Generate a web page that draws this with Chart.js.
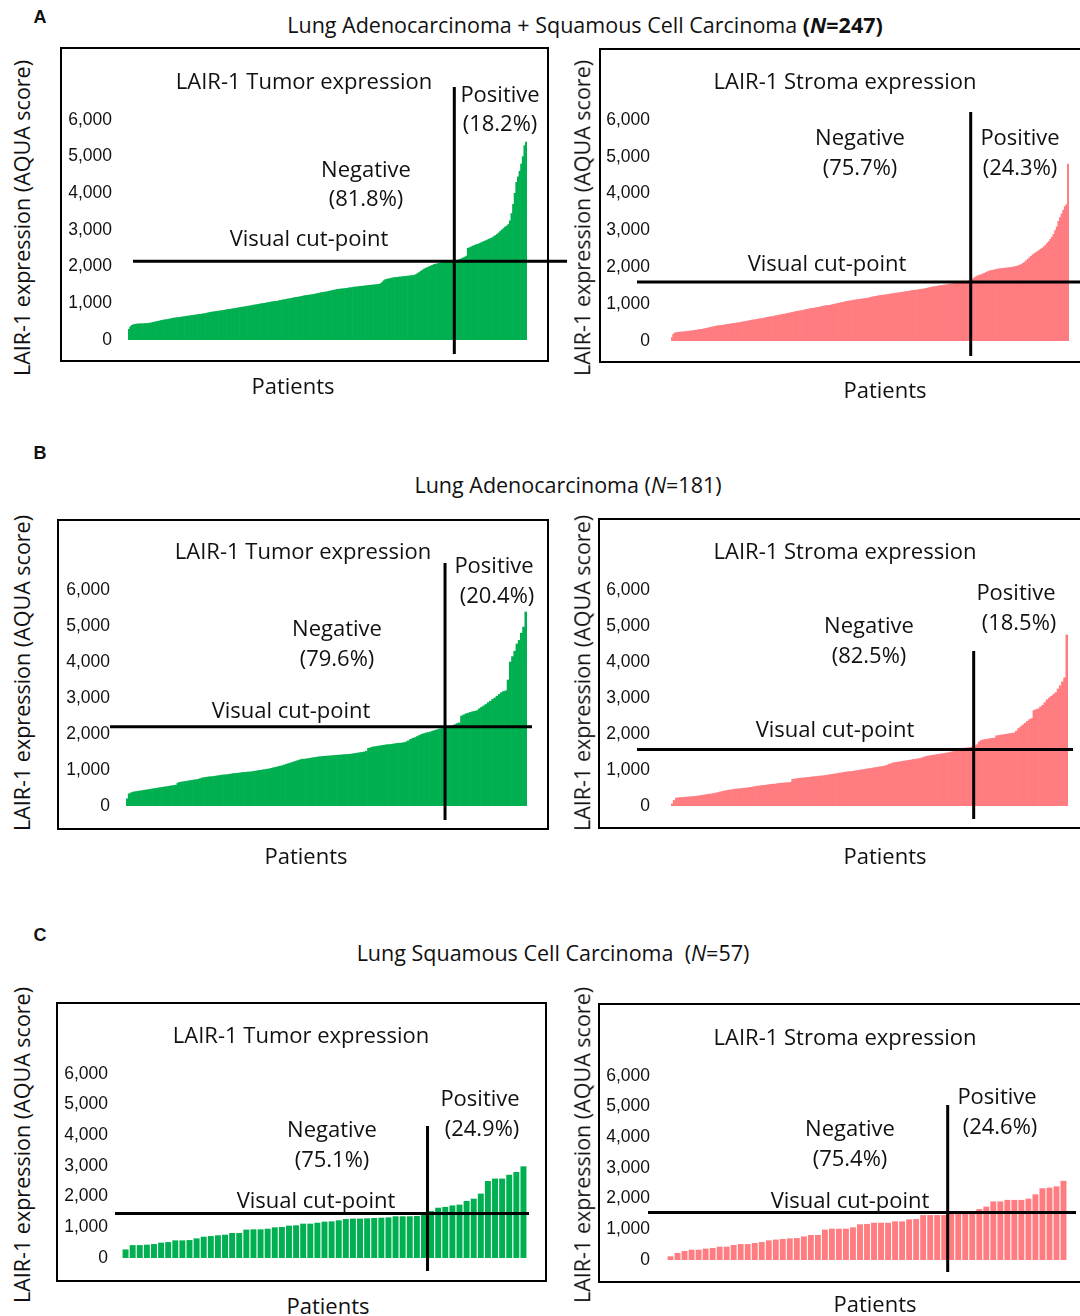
<!DOCTYPE html>
<html>
<head>
<meta charset="utf-8">
<script src="https://cdn.jsdelivr.net/npm/chart.js@4.4.1/dist/chart.umd.min.js"></script>
<style>
  html, body { margin: 0; padding: 0; background: #fff; }
  body { width: 1080px; height: 1316px; position: relative; overflow: hidden; font-family: "Open Sans", sans-serif; color: #111; }
  .t { position: absolute; transform: translate(-50%, -50%); white-space: nowrap; font-size: 22px; line-height: 1; }
  .hdr { position: absolute; transform: translate(-50%, -50%); white-space: nowrap; font-size: 21.5px; line-height: 1; }
  .lt { position: absolute; font-family: "Liberation Sans", Arial, sans-serif; font-weight: bold; font-size: 18px; transform: translate(-50%, -50%); }
  .yt { position: absolute; transform: translate(-50%, -50%) rotate(-90deg); white-space: nowrap; font-size: 21.5px; line-height: 1; }
  .box { position: absolute; border: 2px solid #000; box-sizing: border-box; }
  canvas { position: absolute; }
</style>
</head>
<body>
<script>
// ---------------- DATA ----------------
const yTickValues = [0, 1000, 2000, 3000, 4000, 5000, 6000];

// Panel A: Lung Adenocarcinoma + Squamous Cell Carcinoma (N=247)
const tumorAll = [
  290, 360, 400, 420, 430, 435, 440, 440, 445, 445,
  450, 450, 455, 460, 470, 480, 490, 500, 510, 520,
  530, 540, 550, 555, 560, 570, 580, 590, 600, 605,
  610, 615, 620, 630, 635, 640, 650, 655, 660, 670,
  675, 680, 690, 695, 700, 705, 715, 720, 730, 740,
  750, 760, 765, 770, 780, 785, 790, 800, 805, 810,
  820, 830, 835, 840, 850, 855, 860, 870, 880, 890,
  895, 900, 910, 915, 925, 930, 940, 950, 955, 965,
  970, 980, 990, 995, 1000, 1010, 1020, 1025, 1035, 1045,
  1050, 1055, 1060, 1070, 1080, 1090, 1100, 1105, 1115, 1125,
  1130, 1140, 1150, 1160, 1165, 1170, 1180, 1190, 1200, 1210,
  1215, 1220, 1230, 1235, 1240, 1250, 1260, 1270, 1280, 1290,
  1300, 1305, 1310, 1320, 1330, 1340, 1350, 1360, 1370, 1380,
  1385, 1390, 1395, 1400, 1405, 1410, 1420, 1425, 1430, 1440,
  1445, 1450, 1455, 1460, 1465, 1470, 1475, 1480, 1485, 1490,
  1495, 1500, 1505, 1510, 1515, 1520, 1540, 1580, 1620, 1650,
  1660, 1670, 1680, 1690, 1700, 1705, 1710, 1715, 1720, 1725,
  1730, 1735, 1740, 1745, 1750, 1755, 1760, 1770, 1790, 1820,
  1850, 1880, 1910, 1940, 1960, 1980, 2000, 2020, 2040, 2060,
  2070, 2080, 2090, 2100, 2110, 2115, 2120, 2125, 2130, 2135,
  2140, 2145, 2150, 2160, 2180, 2200, 2220, 2240, 2260, 2290,
  2500, 2520, 2540, 2560, 2580, 2600, 2610, 2630, 2650, 2670,
  2690, 2710, 2730, 2750, 2770, 2790, 2820, 2850, 2880, 2920,
  2960, 3000, 3040, 3080, 3110, 3150, 3250, 3450, 3700, 4000,
  4300, 4450, 4600, 4800, 5000, 5300, 5400
];
const stromaAll = [
  90, 180, 220, 230, 235, 240, 245, 250, 255, 260,
  265, 270, 275, 280, 290, 295, 300, 310, 315, 320,
  330, 340, 350, 360, 370, 380, 390, 400, 410, 415,
  420, 425, 430, 440, 450, 455, 460, 470, 475, 480,
  490, 495, 500, 510, 520, 525, 530, 540, 550, 560,
  570, 575, 580, 590, 600, 605, 610, 620, 630, 640,
  650, 655, 660, 670, 680, 690, 700, 705, 715, 725,
  730, 740, 750, 760, 770, 780, 790, 800, 810, 815,
  820, 830, 840, 850, 860, 870, 880, 885, 890, 900,
  905, 915, 925, 935, 945, 955, 960, 965, 970, 980,
  990, 1000, 1010, 1020, 1030, 1040, 1050, 1060, 1070, 1080,
  1085, 1090, 1100, 1110, 1115, 1120, 1130, 1135, 1140, 1150,
  1155, 1160, 1170, 1180, 1190, 1200, 1210, 1215, 1225, 1235,
  1240, 1245, 1250, 1255, 1265, 1270, 1280, 1285, 1290, 1300,
  1305, 1310, 1320, 1325, 1330, 1340, 1345, 1350, 1360, 1370,
  1375, 1380, 1385, 1390, 1400, 1405, 1410, 1420, 1430, 1440,
  1450, 1460, 1470, 1475, 1480, 1490, 1500, 1505, 1510, 1520,
  1525, 1530, 1540, 1545, 1550, 1560, 1565, 1570, 1575, 1580,
  1590, 1600, 1610, 1620, 1625, 1630, 1650, 1690, 1720, 1750,
  1770, 1790, 1800, 1820, 1840, 1860, 1880, 1900, 1910, 1920,
  1930, 1940, 1950, 1960, 1965, 1970, 1975, 1980, 1985, 1990,
  1995, 2000, 2010, 2020, 2030, 2045, 2060, 2080, 2110, 2140,
  2180, 2220, 2260, 2300, 2340, 2370, 2400, 2430, 2460, 2490,
  2520, 2560, 2600, 2650, 2700, 2760, 2820, 2900, 3000, 3100,
  3250, 3350, 3450, 3550, 3650, 3700, 4800
];

// Panel B: Lung Adenocarcinoma (N=181)
const tumorAdeno = [
  200, 340, 370, 390, 400, 410, 420, 430, 440, 450,
  460, 470, 480, 490, 500, 510, 520, 530, 540, 550,
  560, 570, 580, 640, 660, 670, 680, 690, 700, 710,
  720, 730, 740, 760, 780, 790, 800, 810, 815, 820,
  830, 840, 850, 860, 865, 870, 880, 890, 900, 905,
  910, 920, 930, 935, 940, 945, 950, 960, 970, 980,
  990, 1000, 1010, 1020, 1030, 1045, 1060, 1075, 1090, 1105,
  1120, 1140, 1160, 1180, 1200, 1220, 1240, 1260, 1280, 1300,
  1300, 1310, 1320, 1330, 1340, 1350, 1360, 1370, 1375, 1380,
  1385, 1390, 1395, 1400, 1405, 1410, 1415, 1420, 1425, 1430,
  1435, 1440, 1450, 1460, 1470, 1480, 1490, 1500, 1520, 1600,
  1620, 1640, 1650, 1660, 1670, 1680, 1690, 1700, 1705, 1710,
  1720, 1730, 1740, 1745, 1750, 1760, 1780, 1810, 1850, 1880,
  1900, 1930, 1960, 1990, 2010, 2030, 2040, 2060, 2080, 2100,
  2120, 2140, 2150, 2160, 2170, 2190, 2210, 2230, 2260, 2290,
  2310, 2500, 2530, 2560, 2580, 2600, 2620, 2630, 2650, 2700,
  2740, 2780, 2820, 2870, 2910, 2960, 3000, 3050, 3100, 3150,
  3180, 3200, 3500, 4000, 4150, 4300, 4500, 4600, 4800, 4970,
  5390
];
const stromaAdeno = [
  60, 155, 220, 230, 235, 240, 245, 250, 255, 260,
  265, 270, 280, 290, 300, 310, 320, 330, 335, 345,
  360, 375, 390, 405, 420, 430, 440, 450, 460, 470,
  475, 480, 490, 495, 500, 510, 520, 530, 540, 550,
  560, 570, 575, 580, 590, 600, 605, 610, 620, 630,
  635, 640, 645, 650, 655, 740, 750, 760, 770, 775,
  780, 790, 795, 800, 810, 815, 820, 830, 835, 840,
  850, 860, 870, 880, 890, 900, 910, 920, 930, 940,
  950, 955, 960, 970, 980, 990, 1000, 1010, 1020, 1030,
  1040, 1050, 1060, 1070, 1080, 1090, 1100, 1110, 1130, 1160,
  1180, 1200, 1210, 1220, 1230, 1240, 1250, 1260, 1270, 1280,
  1290, 1300, 1310, 1320, 1340, 1360, 1380, 1390, 1400, 1410,
  1420, 1430, 1440, 1450, 1460, 1470, 1480, 1495, 1510, 1530,
  1550, 1565, 1580, 1600, 1610, 1620, 1630, 1640, 1650, 1700,
  1780, 1820, 1840, 1850, 1860, 1870, 1880, 1890, 1950, 1960,
  1970, 1980, 1990, 2000, 2010, 2020, 2030, 2080, 2150, 2200,
  2250, 2300, 2350, 2400, 2430, 2650, 2680, 2700, 2750, 2800,
  2870, 2950, 3000, 3050, 3100, 3150, 3250, 3340, 3450, 3560,
  4750
];

// Panel C: Lung Squamous Cell Carcinoma (N=57)
const tumorSquam = [
  280, 420, 420, 435, 455, 500, 520, 575, 575, 585,
  640, 695, 715, 740, 760, 815, 815, 925, 935, 935,
  955, 1000, 1010, 1055, 1065, 1120, 1120, 1150, 1185, 1195,
  1230, 1270, 1285, 1285, 1295, 1305, 1315, 1325, 1360, 1360,
  1360, 1370, 1410, 1530, 1640, 1665, 1715, 1740, 1860, 1935,
  2100, 2510, 2590, 2590, 2715, 2805, 2990
];
const stromaSquam = [
  120, 230, 295, 335, 335, 370, 390, 435, 435, 490,
  520, 520, 555, 585, 640, 665, 685, 705, 715, 770,
  815, 815, 990, 1020, 1020, 1020, 1065, 1165, 1175, 1215,
  1215, 1215, 1260, 1260, 1325, 1335, 1465, 1465, 1465, 1465,
  1500, 1550, 1550, 1560, 1660, 1740, 1910, 1910, 1960, 1960,
  1960, 2000, 2140, 2340, 2360, 2400, 2580
];

// Visual cut-points (AQUA score) and number of "negative" patients left of the vertical line
const cutValues   = { aT: 2150, aS: 1600, bT: 2200, bS: 1570, cT: 1450, cS: 1550 };
const negCounts   = { aT: 202,  aS: 186,  bT: 144,  bS: 138,  cT: 43,   cS: 40 };

const GREEN = '#00B050';
const PINK = '#FF7C80';

// ---------------- LAYOUT (page pixel positions) ----------------
const panels = [
  { key: 'aT', values: tumorAll, color: GREEN, bp: 1,
    canvas: [40, 40, 550, 360], area: [128, 120, 527, 340], tickPad: 16,
    box: [60, 47, 549, 362], h: [133, 567], v: [87, 354],
    ytitle: [22, 218], patients: [293, 385],
    texts: [['LAIR-1 Tumor expression', 304, 80], ['Positive', 500, 93], ['(18.2%)', 500, 122],
            ['Negative', 366, 168], ['(81.8%)', 366, 197], ['Visual cut-point', 309, 237]] },
  { key: 'aS', values: stromaAll, color: PINK, bp: 1,
    canvas: [590, 40, 490, 360], area: [671, 120, 1069, 341], tickPad: 21,
    box: [599, 48, 1084, 363], h: [637, 1080], v: [112, 356],
    ytitle: [582, 218], patients: [885, 389],
    texts: [['LAIR-1 Stroma expression', 845, 80], ['Negative', 860, 136], ['(75.7%)', 860, 166],
            ['Positive', 1020, 136], ['(24.3%)', 1020, 166], ['Visual cut-point', 827, 262]] },
  { key: 'bT', values: tumorAdeno, color: GREEN, bp: 1,
    canvas: [40, 500, 550, 360], area: [126, 590, 527, 806], tickPad: 16,
    box: [57, 519, 549, 830], h: [110, 532], v: [563, 820],
    ytitle: [22, 673], patients: [306, 855],
    texts: [['LAIR-1 Tumor expression', 303, 550], ['Positive', 494, 564], ['(20.4%)', 497, 594],
            ['Negative', 337, 627], ['(79.6%)', 337, 657], ['Visual cut-point', 291, 709]] },
  { key: 'bS', values: stromaAdeno, color: PINK, bp: 1,
    canvas: [590, 500, 490, 360], area: [671, 590, 1068, 806], tickPad: 21,
    box: [598, 518, 1084, 829], h: [637, 1073], v: [651, 819],
    ytitle: [582, 673], patients: [885, 855],
    texts: [['LAIR-1 Stroma expression', 845, 550], ['Negative', 869, 624], ['(82.5%)', 869, 654],
            ['Positive', 1016, 591], ['(18.5%)', 1019, 621], ['Visual cut-point', 835, 728]] },
  { key: 'cT', values: tumorSquam, color: GREEN, bp: 0.84,
    canvas: [40, 990, 550, 300], area: [122, 1074, 527, 1258], tickPad: 14,
    box: [56, 1002, 547, 1282], h: [115, 529], v: [1126, 1271],
    ytitle: [22, 1145], patients: [328, 1305],
    texts: [['LAIR-1 Tumor expression', 301, 1034], ['Negative', 332, 1128], ['(75.1%)', 332, 1158],
            ['Positive', 480, 1097], ['(24.9%)', 482, 1127], ['Visual cut-point', 316, 1199]] },
  { key: 'cS', values: stromaSquam, color: PINK, bp: 0.84,
    canvas: [590, 990, 490, 300], area: [667, 1076, 1067, 1260], tickPad: 17,
    box: [598, 1003, 1084, 1283], h: [648, 1076], v: [1105, 1272],
    ytitle: [582, 1145], patients: [875, 1303],
    texts: [['LAIR-1 Stroma expression', 845, 1036], ['Negative', 850, 1127], ['(75.4%)', 850, 1157],
            ['Positive', 997, 1095], ['(24.6%)', 1000, 1125], ['Visual cut-point', 850, 1199]] }
];

function addDiv(cls, html, x, y) {
  const d = document.createElement('div');
  d.className = cls;
  d.innerHTML = html;
  d.style.left = x + 'px';
  d.style.top = y + 'px';
  document.body.appendChild(d);
  return d;
}

// Section letters and headers
addDiv('lt', 'A', 40, 17);
addDiv('lt', 'B', 40, 453);
addDiv('lt', 'C', 40, 935);
addDiv('hdr', 'Lung Adenocarcinoma + Squamous Cell Carcinoma <b>(<i>N</i>=247)</b>', 585, 25);
addDiv('hdr', 'Lung Adenocarcinoma (<i>N</i>=181)', 568, 485);
addDiv('hdr', 'Lung Squamous Cell Carcinoma&nbsp;&nbsp;(<i>N</i>=57)', 553, 953);

const YW = 80;

const cutLines = {
  id: 'cutLines',
  afterDatasetsDraw(chart, args, opts) {
    const p = opts.panel;
    const ctx = chart.ctx;
    const ox = p.canvas[0], oy = p.canvas[1];
    const y = chart.scales.y.getPixelForValue(cutValues[p.key]);
    const x = chart.scales.x.getPixelForValue(negCounts[p.key] - 0.5);
    ctx.save();
    ctx.strokeStyle = '#000';
    ctx.lineWidth = 3;
    ctx.beginPath();
    ctx.moveTo(p.h[0] - ox, y);
    ctx.lineTo(p.h[1] - ox, y);
    ctx.moveTo(x, p.v[0] - oy);
    ctx.lineTo(x, p.v[1] - oy);
    ctx.stroke();
    ctx.restore();
  }
};

panels.forEach(p => {
  const b = document.createElement('div');
  b.className = 'box';
  b.style.left = p.box[0] + 'px';
  b.style.top = p.box[1] + 'px';
  b.style.width = (p.box[2] - p.box[0]) + 'px';
  b.style.height = (p.box[3] - p.box[1]) + 'px';
  document.body.appendChild(b);

  const [cx, cy, cw, ch] = p.canvas;
  const [L, T, R, B] = p.area;
  const cv = document.createElement('canvas');
  cv.width = cw; cv.height = ch;
  cv.style.left = cx + 'px'; cv.style.top = cy + 'px';
  cv.style.width = cw + 'px'; cv.style.height = ch + 'px';
  document.body.appendChild(cv);

  const labels = p.values.map((_, i) => String(i + 1));
  new Chart(cv, {
    type: 'bar',
    data: {
      labels: labels,
      datasets: [{ data: p.values, backgroundColor: p.color, borderWidth: 0,
                   barPercentage: p.bp, categoryPercentage: 1 }]
    },
    options: {
      responsive: false, animation: false, devicePixelRatio: 1,
      layout: { padding: { left: L - cx - YW, top: T - cy, right: cx + cw - R, bottom: cy + ch - B } },
      plugins: { legend: { display: false }, tooltip: { enabled: false }, cutLines: { panel: p } },
      scales: {
        x: { display: false, offset: true },
        y: {
          min: 0, max: 6000,
          afterBuildTicks: s => { s.ticks = yTickValues.map(v => ({ value: v })); },
          afterFit: s => { s.width = YW; },
          ticks: { callback: v => Number(v).toLocaleString('en-US'), color: '#111',
                   font: { family: 'Liberation Sans', size: 17.5 }, padding: p.tickPad },
          grid: { display: false, drawTicks: false },
          border: { display: false }
        }
      }
    },
    plugins: [cutLines]
  });

  p.texts.forEach(t => addDiv('t', t[0], t[1], t[2]));
  addDiv('t', 'Patients', p.patients[0], p.patients[1]);
  addDiv('yt', 'LAIR-1 expression (AQUA score)', p.ytitle[0], p.ytitle[1]);
});
</script>
</body>
</html>
